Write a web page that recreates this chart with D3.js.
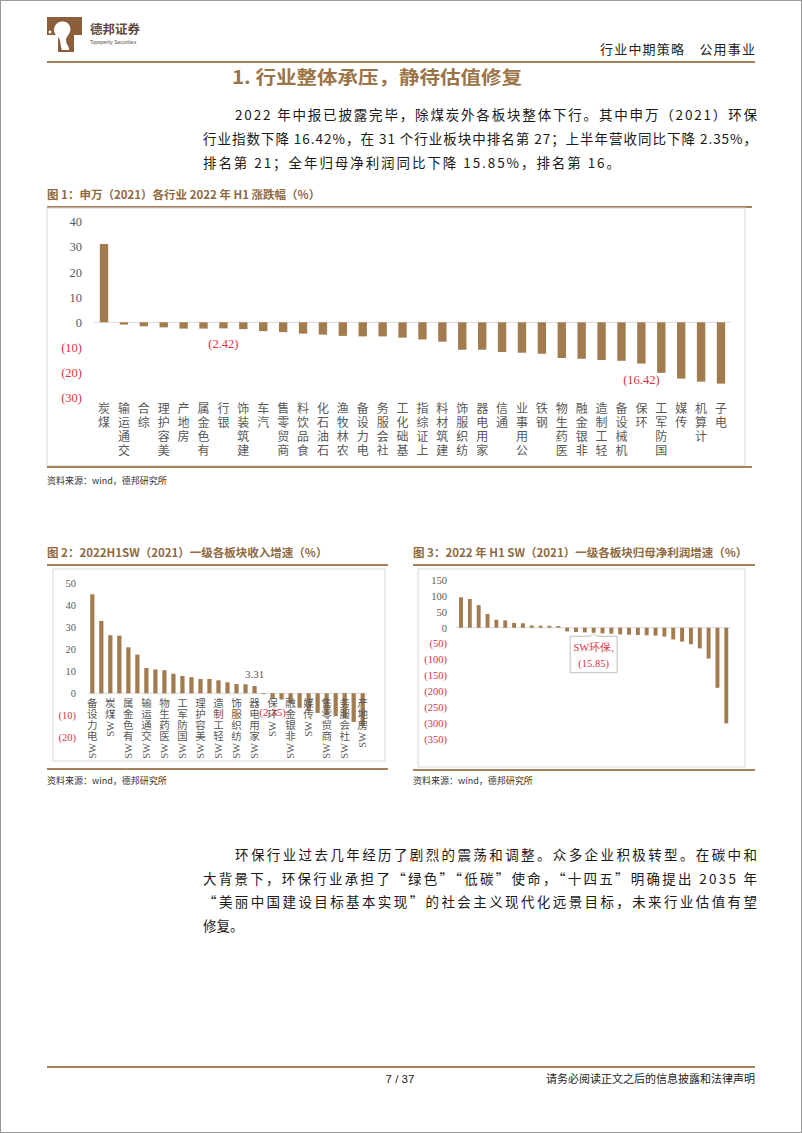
<!DOCTYPE html>
<html>
<head>
<meta charset="utf-8">
<title>行业整体承压，静待估值修复</title>
<style>
  body { margin: 0; background: #fff; }
  svg text { font-family: "Noto Sans CJK SC", "Noto Sans", sans-serif; }
</style>
</head>
<body>
<script src="https://d3js.org/d3.v7.min.js"></script>
<script>
// ---- figure 1: SW(2021) industries, 2022 H1 change (%) ----
var fig1Cats = ["煤炭", "交通运输", "综合", "美容护理", "房地产", "有色金属", "银行", "建筑装饰",
    "汽车", "商贸零售", "食品饮料", "石油石化", "农林牧渔", "电力设备", "社会服务", "基础化工",
    "上证综指", "建筑材料", "纺织服饰", "家用电器", "通信", "公用事业", "钢铁", "医药生物",
    "非银金融", "轻工制造", "机械设备", "环保", "国防军工", "传媒", "计算机", "电子"];
var fig1Vals = [31.2, -0.9, -1.6, -2.0, -2.5, -2.5, -2.42, -2.7,
    -3.5, -3.9, -4.5, -4.9, -5.4, -5.6, -5.6, -6.1,
    -6.8, -7.7, -10.9, -10.9, -11.8, -12.1, -12.5, -14.2,
    -14.5, -15.0, -15.3, -16.42, -20.1, -22.4, -23.6, -24.4];
var fig1Ticks = [40, 30, 20, 10, 0, -10, -20, -30];

// ---- figure 2: revenue growth 2022H1 (%) (only every other label is shown) ----
var fig2Cats = ["电力设备", null, "煤炭", null, "有色金属", null, "交通运输", null, "医药生物", null,
    "国防军工", null, "美容护理", null, "轻工制造", null, "纺织服饰", null, "家用电器", null,
    "环保", null, "非银金融", null, "传媒", null, "商贸零售", null, "社会服务", null, "房地产"];
var fig2Vals = [45.0, 32.9, 26.4, 26.2, 20.9, 17.6, 11.5, 10.8, 10.5, 8.9,
    7.9, 7.3, 6.5, 6.5, 5.9, 5.0, 4.2, 4.1, 3.31, -0.2,
    -2.35, -2.8, -4.5, -6.6, -7.9, -8.9, -9.9, -10.4, -11.2, -13.0, -15.0];
var fig2Ticks = [50, 40, 30, 20, 10, 0, -10, -20];

// ---- figure 3: net profit growth 2022H1 (%), ranked; only 环保 (rank 16) is named ----
var fig3Rank = [1, 2, 3, 4, 5, 6, 7, 8, 9, 10, 11, 12, 13, 14, 15, 16,
    17, 18, 19, 20, 21, 22, 23, 24, 25, 26, 27, 28, 29, 30, 31];
var fig3Vals = [95.5, 90, 71, 43, 25, 23, 15, 14, 7, 6, 6, 5,
    -11.5, -13.6, -14.7, -15.85, -17.8, -18.9, -21, -22, -23, -24, -25, -28,
    -37, -44, -52, -65, -97, -189, -301];
var fig3Ticks = [150, 100, 50, 0, -50, -100, -150, -200, -250, -300, -350];

var BROWN = "#a27c4f";
var TITLE = "#8f6a42";
var RED = "#e0303f";
var GREY = "#595959";
var SERIF = "'Liberation Serif', 'Times New Roman', serif";

var svg = d3.select("body").append("svg")
    .attr("width", 802)
    .attr("height", 1133);

// page frame
svg.append("rect").attr("x", 0.5).attr("y", 0.5).attr("width", 801).attr("height", 1132)
    .attr("fill", "#fff").attr("stroke", "#9a9a9a");

// ---------- header ----------
var logo = svg.append("g");
logo.append("path")
    .attr("d", "M47,17 H82 V35 H74 V52 H58 V35 H47 Z")
    .attr("fill", "#8c5f3c");
logo.append("path")
    .attr("d", "M55,26 C58,20 68,20 70,27 C72,33 66,36 66,40 C66,45 70,47 69,50 L62,50 C60,45 61,40 58,37 C54,34 53,30 55,26 Z")
    .attr("fill", "#fff");
logo.append("circle").attr("cx", 50).attr("cy", 32).attr("r", 1.5).attr("fill", "#fff");
svg.append("text").attr("x", 90).attr("y", 34).text("德邦证券")
    .attr("font-size", 12.5).attr("font-weight", "bold").attr("fill", "#5b4a3c");
svg.append("text").attr("x", 90).attr("y", 44).text("Topsperity Securities")
    .attr("font-size", 5).attr("fill", "#5b4a3c").style("font-family", "Arial, sans-serif");
svg.append("text").attr("x", 755).attr("y", 54).attr("text-anchor", "end")
    .text("行业中期策略\u3000公用事业").attr("font-size", 13).attr("fill", "#222")
    .attr("textLength", 155).attr("lengthAdjust", "spacing");
svg.append("line").attr("x1", 47).attr("x2", 755).attr("y1", 62).attr("y2", 62)
    .attr("stroke", "#a6805a").attr("stroke-width", 2);

svg.append("text").attr("x", 232).attr("y", 84).text("1. 行业整体承压，静待估值修复")
    .attr("font-size", 18).attr("font-weight", "bold").attr("fill", "#9b7448")
    .attr("textLength", 290).attr("lengthAdjust", "spacingAndGlyphs");

// ---------- paragraphs ----------
function para(lines) {
    lines.forEach(function(l) {
        var t = svg.append("text").attr("x", l[0]).attr("y", l[1]).text(l[2])
            .attr("font-size", 13.5).attr("fill", "#1a1a1a");
        if (l[3]) t.attr("textLength", l[3]).attr("lengthAdjust", "spacing");
    });
}
para([
    [235, 120, "2022 年中报已披露完毕，除煤炭外各板块整体下行。其中申万（2021）环保", 522],
    [203, 144, "行业指数下降 16.42%，在 31 个行业板块中排名第 27；上半年营收同比下降 2.35%，", 554],
    [203, 168, "排名第 21；全年归母净利润同比下降 15.85%，排名第 16。", 417]
]);
para([
    [235, 860, "环保行业过去几年经历了剧烈的震荡和调整。众多企业积极转型。在碳中和", 522],
    [203, 884, "大背景下，环保行业承担了“绿色”“低碳”使命，“十四五”明确提出 2035 年", 554],
    [203, 907, "“美丽中国建设目标基本实现”的社会主义现代化远景目标，未来行业估值有望", 554],
    [203, 931, "修复。", 0]
]);

// ---------- helpers ----------
function chartFrame(x0, x1, yTitle, title, yTopLine, box, yBotLine, ySource) {
    svg.append("text").attr("x", x0).attr("y", yTitle).text(title)
        .attr("font-size", 11.5).attr("font-weight", "bold").attr("fill", TITLE);
    svg.append("line").attr("x1", x0).attr("x2", x1).attr("y1", yTopLine).attr("y2", yTopLine)
        .attr("stroke", "#a6805a").attr("stroke-width", 2);
    svg.append("rect").attr("x", box[0]).attr("y", box[1]).attr("width", box[2] - box[0])
        .attr("height", box[3] - box[1]).attr("fill", "none").attr("stroke", "#d9d9d9");
    svg.append("line").attr("x1", x0).attr("x2", x1).attr("y1", yBotLine).attr("y2", yBotLine)
        .attr("stroke", "#a6805a").attr("stroke-width", 2);
    svg.append("text").attr("x", x0).attr("y", ySource).text("资料来源：wind，德邦研究所")
        .attr("font-size", 9).attr("fill", "#333");
}

function fmt(d) { return d < 0 ? "(" + Math.abs(d) + ")" : String(d); }

function yAxis(y, xPos, ticks, fs) {
    var g = svg.append("g").attr("transform", "translate(" + xPos + ",0)")
        .call(d3.axisLeft(y).tickValues(ticks).tickSize(0).tickPadding(0).tickFormat(fmt));
    g.select(".domain").remove();
    g.selectAll("text").attr("font-size", fs).style("font-family", SERIF)
        .attr("fill", function(d) { return d < 0 ? RED : GREY; });
}

// upright CJK chars stacked, reading bottom-to-top (last char on top); latin prefix rotated
function stackedLabel(g, cx, yTop, label, fs, step) {
    var m = label.match(/^([A-Za-z]*)(.*)$/);
    var latin = m[1], cjk = m[2].split("").reverse();
    g.append("text").text(cjk.join(""))
        .attr("x", cx).attr("y", yTop)
        .attr("font-size", fs).attr("fill", GREY)
        .style("writing-mode", "vertical-rl")
        .style("text-orientation", "upright")
        .style("letter-spacing", (step - fs) + "px");
    if (latin) {
        var cur = yTop + cjk.length * step + 1;
        var s = g.append("text").text(latin).attr("font-size", fs).style("font-family", SERIF)
            .attr("fill", GREY).attr("text-anchor", "middle").attr("dominant-baseline", "central");
        var L = s.node().getComputedTextLength();
        s.attr("transform", "translate(" + cx + "," + (cur + L / 2) + ") rotate(-90)");
    }
}

// ---------- figure 1 ----------
chartFrame(47, 752, 199, "图 1：申万（2021）各行业 2022 年 H1 涨跌幅（%）", 207,
    [47, 208, 745, 466], 467, 484);

var x1 = d3.scalePoint().domain(fig1Cats).range([104, 721]);
var y1 = d3.scaleLinear().domain([-30, 40]).range([397.7, 221.8]);
var bw1 = x1.step() * 0.42;

svg.append("line").attr("x1", 94).attr("x2", 731).attr("y1", y1(0)).attr("y2", y1(0))
    .attr("stroke", "#d9d9d9");
yAxis(y1, 82, fig1Ticks, 12.5);

svg.append("g").selectAll("rect").data(fig1Vals).enter().append("rect")
    .attr("x", function(d, i) { return x1(fig1Cats[i]) - bw1 / 2; })
    .attr("y", function(d) { return y1(Math.max(0, d)); })
    .attr("width", bw1)
    .attr("height", function(d) { return Math.abs(y1(d) - y1(0)); })
    .attr("fill", BROWN);

var lab1 = svg.append("g");
fig1Cats.forEach(function(c) { stackedLabel(lab1, x1(c), 402, c, 12, 14); });

[["银行", -2.42], ["环保", -16.42]].forEach(function(a) {
    svg.append("text").attr("x", x1(a[0])).attr("y", y1(a[1]) + 16).text(fmt(a[1]))
        .attr("text-anchor", "middle").attr("dominant-baseline", "central")
        .attr("font-size", 12.5).style("font-family", SERIF).attr("fill", RED);
});

// ---------- figure 2 ----------
chartFrame(47, 388, 557, "图 2：2022H1SW（2021）一级各板块收入增速（%）", 565,
    [53, 569, 385, 761], 769, 784);

var idx2 = fig2Vals.map(function(d, i) { return i; });
var x2 = d3.scalePoint().domain(idx2).range([92.3, 362.7]);
var y2 = d3.scaleLinear().domain([-20, 50]).range([737.3, 583.3]);
var bw2 = x2.step() * 0.47;

svg.append("line").attr("x1", 88).attr("x2", 367).attr("y1", y2(0)).attr("y2", y2(0))
    .attr("stroke", "#d9d9d9");
yAxis(y2, 76, fig2Ticks, 10.5);

svg.append("g").selectAll("rect").data(fig2Vals).enter().append("rect")
    .attr("x", function(d, i) { return x2(i) - bw2 / 2; })
    .attr("y", function(d) { return y2(Math.max(0, d)); })
    .attr("width", bw2)
    .attr("height", function(d) { return Math.max(0.8, Math.abs(y2(d) - y2(0))); })
    .attr("fill", BROWN);

var lab2 = svg.append("g");
fig2Cats.forEach(function(c, i) {
    if (c) stackedLabel(lab2, x2(i), 698, "SW" + c, 10.5, 11);
});

svg.append("text").attr("x", x2(18)).attr("y", y2(fig2Vals[18]) - 12).text(fmt(fig2Vals[18]))
    .attr("text-anchor", "middle").attr("dominant-baseline", "central")
    .attr("font-size", 11).style("font-family", SERIF).attr("fill", GREY);
svg.append("text").attr("x", x2(20)).attr("y", y2(fig2Vals[20]) + 14).text(fmt(fig2Vals[20]))
    .attr("text-anchor", "middle").attr("dominant-baseline", "central")
    .attr("font-size", 11).style("font-family", SERIF).attr("fill", RED);

// ---------- figure 3 ----------
chartFrame(413, 755, 557, "图 3：2022 年 H1 SW（2021）一级各板块归母净利润增速（%）", 565,
    [418, 569, 745, 767], 770, 784);

var x3 = d3.scalePoint().domain(fig3Rank).range([461, 726.3]);
var y3 = d3.scaleLinear().domain([-350, 150]).range([739, 580]);
var bw3 = x3.step() * 0.44;

svg.append("line").attr("x1", 456).attr("x2", 731).attr("y1", y3(0)).attr("y2", y3(0))
    .attr("stroke", "#d9d9d9");
yAxis(y3, 447, fig3Ticks, 10.5);

svg.append("g").selectAll("rect").data(fig3Vals).enter().append("rect")
    .attr("x", function(d, i) { return x3(fig3Rank[i]) - bw3 / 2; })
    .attr("y", function(d) { return y3(Math.max(0, d)); })
    .attr("width", bw3)
    .attr("height", function(d) { return Math.abs(y3(d) - y3(0)); })
    .attr("fill", BROWN);

// callout for 环保
var cx3 = x3(16), cy3 = y3(fig3Vals[15]);
var call = svg.append("g");
call.append("path")
    .attr("d", "M" + (cx3 - 23.5) + "," + (cy3 + 3.5) + " H" + (cx3 - 3) + " L" + cx3 + "," + (cy3 + 0.5) +
        " L" + (cx3 + 3) + "," + (cy3 + 3.5) + " H" + (cx3 + 23.5) + " V" + (cy3 + 40) +
        " H" + (cx3 - 23.5) + " Z")
    .attr("fill", "#fff").attr("stroke", "#bfbfbf");
call.append("text").attr("x", cx3).attr("y", cy3 + 15).text("SW环保,")
    .attr("text-anchor", "middle").attr("dominant-baseline", "central")
    .attr("font-size", 10.5).style("font-family", SERIF).attr("fill", RED);
call.append("text").attr("x", cx3).attr("y", cy3 + 30.5).text(fmt(fig3Vals[15]))
    .attr("text-anchor", "middle").attr("dominant-baseline", "central")
    .attr("font-size", 10.5).style("font-family", SERIF).attr("fill", RED);

// ---------- footer ----------
svg.append("line").attr("x1", 47).attr("x2", 755).attr("y1", 1067).attr("y2", 1067)
    .attr("stroke", "#a6805a").attr("stroke-width", 2);
svg.append("text").attr("x", 400).attr("y", 1083).attr("text-anchor", "middle").text("7 / 37")
    .attr("font-size", 11.5).attr("fill", "#222").style("font-family", "'Liberation Sans Narrow', Arial, sans-serif");
svg.append("text").attr("x", 755).attr("y", 1083).attr("text-anchor", "end")
    .text("请务必阅读正文之后的信息披露和法律声明").attr("font-size", 11).attr("fill", "#222");
</script>
</body>
</html>
